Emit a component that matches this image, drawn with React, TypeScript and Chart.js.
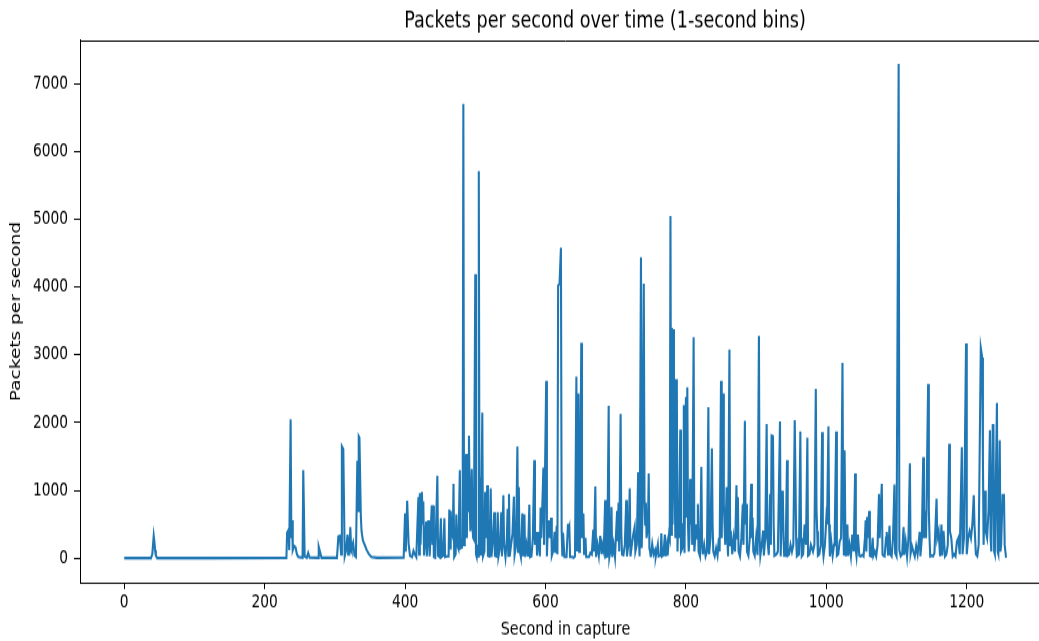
import { useEffect, useRef } from "react";
import { Chart, registerables } from "chart.js";

Chart.register(...registerables);

// [second, packets per second], grouped by phase of the capture
const quietPhase: [number, number][] = [
  [0, 3], [38, 3], [40, 60], [42, 330], [43, 240], [44, 120], [45, 40], [47, 4], [120, 3], [231, 5],
  [232, 380], [234, 420], [235, 120], [237, 2050], [238, 300], [239, 560], [240, 120], [242, 180], [244, 160], [246, 60],
  [248, 20], [254, 10], [255, 1300], [257, 30], [260, 10], [262, 80], [264, 10], [276, 8], [277, 170], [279, 90],
  [281, 8], [303, 8], [305, 320], [307, 330], [309, 60], [310, 1650], [312, 1610], [314, 30], [316, 120], [318, 350],
  [319, 60], [320, 320], [321, 80], [322, 460], [323, 200], [324, 150], [326, 230], [328, 40], [330, 20], [332, 1440],
  [333, 700], [334, 1800], [335, 1780], [337, 620], [338, 400], [340, 260], [342, 210], [345, 130], [348, 70], [352, 20],
  [360, 8], [398, 10],
];

const burstPhase1: [number, number][] = [
  [400, 660], [401, 100], [403, 850], [405, 220], [407, 40], [410, 20], [412, 110], [414, 60], [416, 20], [419, 900],
  [420, 60], [421, 960], [422, 200], [424, 980], [425, 500], [426, 840], [427, 40], [430, 540], [431, 30], [433, 560],
  [434, 380], [435, 30], [438, 780], [439, 200], [440, 780], [441, 20], [443, 10], [446, 1220], [447, 40], [449, 20],
  [451, 590], [452, 20], [454, 40], [456, 590], [457, 20], [460, 30], [462, 30], [463, 720], [464, 150], [465, 700],
  [466, 400], [468, 320], [469, 1100], [470, 20], [472, 60], [473, 650], [474, 200], [476, 140], [478, 1300], [479, 150],
  [481, 160], [482, 300], [483, 6700], [484, 200], [485, 1100], [487, 1540], [488, 300], [489, 1520], [490, 700], [491, 1810],
  [492, 850], [493, 400], [495, 1320], [496, 460], [497, 300], [498, 280], [500, 4190], [501, 60], [502, 20], [503, 200],
  [504, 30], [505, 5710], [506, 350], [507, 1200], [508, 40], [510, 2150], [511, 30], [513, 100], [514, 980], [515, 300],
  [516, 500], [517, 1080], [518, 40], [520, 30], [522, 1030], [523, 20], [525, 250], [527, 680], [528, 40], [530, 30],
  [532, 680], [533, 30], [535, 150], [537, 680], [538, 30], [540, 930], [541, 200], [543, 20], [545, 300], [546, 730],
  [547, 40], [548, 950], [549, 30], [551, 200], [553, 360], [555, 910], [556, 50], [558, 180],
];

const burstPhase2: [number, number][] = [
  [560, 1650], [561, 100], [562, 1050], [563, 130], [565, 20], [567, 660], [568, 30], [570, 650], [571, 20], [573, 200],
  [575, 30], [577, 790], [578, 20], [580, 30], [582, 300], [584, 1450], [585, 200], [587, 390], [588, 40], [590, 390],
  [592, 30], [593, 750], [594, 300], [596, 950], [597, 1340], [598, 200], [601, 2620], [602, 30], [603, 350], [605, 560],
  [606, 300], [608, 600], [609, 40], [611, 110], [613, 390], [614, 80], [616, 480], [617, 60], [618, 4020], [620, 4050],
  [622, 4580], [623, 410], [624, 30], [625, 380], [627, 20], [630, 20], [632, 510], [633, 400], [634, 450], [635, 20],
  [638, 20], [640, 10], [642, 30], [644, 2680], [645, 100], [647, 2430], [648, 100], [649, 400], [651, 3180], [652, 300],
  [654, 660], [655, 50], [657, 300], [658, 20], [662, 20], [664, 80], [666, 60], [668, 420], [669, 100], [671, 1060],
  [672, 20], [674, 200], [676, 40], [678, 330], [680, 60], [681, 200], [683, 100], [685, 860], [686, 20], [688, 30],
  [690, 2250], [691, 20], [693, 150], [694, 760], [695, 20], [697, 200], [699, 20], [702, 700], [703, 250], [704, 820],
  [705, 100], [707, 2130], [708, 370], [709, 60], [711, 50], [713, 200], [715, 860], [716, 30], [718, 200], [720, 1030],
  [721, 30], [723, 200], [725, 350], [727, 460], [728, 100], [730, 200], [732, 1270], [733, 300], [734, 30], [736, 4440],
  [737, 150], [738, 600],
];

const burstPhase3: [number, number][] = [
  [740, 4050], [741, 880], [742, 500], [743, 820], [744, 300], [746, 500], [747, 1250], [748, 150], [749, 100], [750, 20],
  [752, 210], [754, 60], [756, 120], [757, 20], [760, 200], [761, 30], [764, 40], [765, 370], [766, 30], [768, 50],
  [770, 350], [771, 30], [773, 200], [774, 40], [776, 350], [777, 300], [778, 5050], [779, 350], [780, 3400], [781, 500],
  [782, 3380], [783, 1200], [784, 1000], [785, 300], [786, 2620], [787, 2640], [788, 100], [789, 600], [790, 300], [792, 1900],
  [793, 100], [795, 150], [796, 500], [797, 2260], [798, 80], [800, 2380], [801, 600], [802, 2520], [803, 500], [804, 100],
  [805, 300], [806, 1170], [807, 500], [808, 1000], [809, 200], [811, 3260], [812, 100], [813, 250], [815, 500], [816, 300],
  [817, 800], [818, 100], [820, 30], [822, 1350], [823, 200], [824, 60], [826, 200], [828, 30], [830, 100], [832, 2230],
  [833, 60], [835, 300], [837, 1620], [838, 500], [839, 100], [841, 30], [843, 150], [845, 40], [847, 300], [848, 100],
  [850, 2620], [851, 300], [853, 2430], [854, 800], [856, 200], [858, 1050], [859, 300], [860, 30], [862, 3080], [863, 200],
  [864, 400], [866, 60], [868, 300], [870, 100], [872, 1080], [873, 300], [874, 900], [875, 100], [877, 30], [879, 300],
  [881, 800], [882, 200], [884, 2030], [885, 500], [886, 800], [887, 100], [889, 40], [891, 300], [893, 1100], [894, 300],
  [895, 600], [896, 100], [898, 40], [900, 300], [902, 50],
];

const burstPhase4: [number, number][] = [
  [904, 3280], [905, 300], [906, 40], [908, 200], [910, 410], [911, 40], [913, 300], [915, 1980], [916, 300], [918, 50],
  [920, 950], [921, 200], [922, 1810], [924, 1800], [925, 500], [926, 40], [929, 60], [931, 100], [934, 2020], [935, 30],
  [937, 980], [938, 1000], [939, 300], [940, 40], [942, 40], [944, 1450], [945, 40], [947, 60], [949, 200], [951, 100],
  [953, 200], [955, 2040], [956, 1220], [957, 300], [958, 30], [961, 60], [963, 1870], [964, 300], [965, 30], [967, 60],
  [969, 500], [971, 200], [973, 1780], [974, 40], [976, 60], [978, 200], [981, 100], [983, 200], [985, 2500], [986, 730],
  [987, 400], [988, 40], [990, 60], [992, 200], [994, 1860], [995, 160], [996, 30], [998, 200], [1000, 590], [1001, 500],
  [1003, 1945], [1004, 500], [1005, 30], [1007, 250], [1009, 40], [1011, 200], [1012, 400], [1014, 1870], [1015, 40], [1017, 60],
  [1019, 250], [1021, 300], [1023, 2880], [1024, 700], [1025, 40], [1026, 1590], [1027, 500], [1028, 30], [1030, 500], [1031, 40],
  [1033, 200], [1035, 30], [1037, 350], [1039, 100], [1041, 1250], [1042, 120], [1043, 30], [1045, 350], [1047, 40], [1049, 30],
  [1051, 50], [1053, 30], [1055, 300], [1056, 560], [1057, 100], [1058, 610], [1059, 300], [1061, 700], [1062, 40], [1064, 30],
  [1066, 300], [1067, 40], [1069, 100],
];

const burstPhase5: [number, number][] = [
  [1071, 30], [1073, 200], [1075, 950], [1076, 300], [1079, 1100], [1080, 60], [1081, 40], [1083, 30], [1085, 300], [1086, 390],
  [1088, 40], [1090, 480], [1091, 60], [1093, 30], [1095, 300], [1097, 1090], [1098, 80], [1100, 30], [1103, 7290], [1104, 120],
  [1106, 30], [1108, 60], [1110, 460], [1111, 50], [1113, 250], [1115, 30], [1117, 300], [1119, 1400], [1120, 70], [1122, 180],
  [1124, 100], [1126, 30], [1128, 180], [1130, 60], [1133, 390], [1134, 30], [1136, 300], [1138, 1490], [1139, 300], [1141, 700],
  [1142, 300], [1145, 2570], [1146, 700], [1147, 300], [1148, 30], [1150, 40], [1152, 30], [1154, 80], [1157, 880], [1158, 300],
  [1160, 400], [1162, 30], [1164, 500], [1165, 40], [1167, 400], [1169, 30], [1171, 60], [1173, 200], [1175, 1690], [1176, 400],
  [1178, 300], [1180, 30], [1182, 60], [1184, 30], [1186, 250], [1188, 300], [1190, 60], [1193, 1640], [1194, 60], [1196, 300],
  [1199, 3170], [1200, 60], [1202, 300], [1204, 400], [1206, 300], [1208, 500], [1210, 930], [1211, 500], [1213, 60], [1215, 30],
  [1217, 200], [1220, 3100], [1222, 2960], [1223, 1500], [1224, 200], [1225, 700], [1226, 1000], [1227, 400], [1229, 300], [1231, 700],
  [1233, 1890], [1234, 300], [1235, 100], [1237, 1960], [1238, 1960], [1239, 100], [1240, 60], [1243, 2290], [1244, 100], [1245, 60],
  [1247, 1740], [1248, 100], [1249, 200], [1251, 930], [1253, 930], [1254, 200], [1256, 10],
];

const xTickValues = [0, 200, 400, 600, 800, 1000, 1200];
const yTickValues = [0, 1000, 2000, 3000, 4000, 5000, 6000, 7000];

const chartTitle = "Packets per second over time (1-second bins)";
const xAxisLabel = "Second in capture";
const yAxisLabel = "Packets per second";

const FONT = "'DejaVu Sans', 'Liberation Sans', sans-serif";
const STRETCH_Y = 1.3;
const CANVAS_W = 1194;
const CANVAS_H = 487;

export default function App() {
  const canvasRef = useRef<HTMLCanvasElement | null>(null);

  useEffect(() => {
    document.body.style.overflow = "hidden";
    const canvas = canvasRef.current;
    if (!canvas) return;

    const points = [
      ...quietPhase,
      ...burstPhase1,
      ...burstPhase2,
      ...burstPhase3,
      ...burstPhase4,
      ...burstPhase5,
    ].map(([x, y]) => ({ x, y }));

    const framePlugin = {
      id: "frame",
      afterDatasetsDraw(chart: any) {
        const { ctx, chartArea } = chart;
        const { left, top, right, bottom } = chartArea;
        ctx.save();
        ctx.strokeStyle = "#000";
        ctx.lineWidth = 1;
        ctx.beginPath();
        ctx.moveTo(left, Math.round(top) + 0.5);
        ctx.lineTo(right, Math.round(top) + 0.5);
        ctx.moveTo(Math.round(right) - 0.5, top);
        ctx.lineTo(Math.round(right) - 0.5, bottom);
        ctx.stroke();
        ctx.restore();
      },
    };

    const titlePlugin = {
      id: "centeredTitle",
      afterDraw(chart: any) {
        const { ctx } = chart;
        ctx.save();
        ctx.fillStyle = "#000";
        ctx.font = `normal 17.6px ${FONT}`;
        ctx.textAlign = "center";
        ctx.textBaseline = "middle";
        ctx.fillText(chartTitle, 597, 10.5);
        ctx.restore();
      },
    };

    const chart = new Chart(canvas, {
      type: "line",
      data: {
        datasets: [
          {
            data: points,
            borderColor: "#1f77b4",
            backgroundColor: "#1f77b4",
            borderWidth: 2.1,
            pointRadius: 0,
            tension: 0,
            fill: false,
          },
        ],
      },
      options: {
        animation: false,
        responsive: false,
        devicePixelRatio: 1,
        events: [],
        layout: { padding: { left: 0, right: 151, top: 24.6, bottom: 0 } },
        plugins: {
          legend: { display: false },
          tooltip: { enabled: false },
          title: { display: false },
        },
        scales: {
          x: {
            type: "linear",
            min: -63,
            max: 1320,
            afterBuildTicks: (scale: any) => {
              scale.ticks = xTickValues.map((value) => ({ value }));
            },
            afterFit: (scale: any) => {
              scale.height = 44.7;
            },
            ticks: {
              color: "#000",
              font: { family: FONT, size: 13.8 },
              padding: 2,
              autoSkip: false,
              maxRotation: 0,
              callback: (v: any) => String(v),
            },
            grid: {
              drawOnChartArea: false,
              drawTicks: true,
              tickLength: 4.6,
              color: "#000",
            },
            border: { display: true, color: "#000", width: 1 },
            title: {
              display: true,
              text: xAxisLabel,
              color: "#000",
              font: { family: FONT, size: 14.3 },
              padding: { top: 0, bottom: 0 },
            },
          },
          y: {
            type: "linear",
            min: -364,
            max: 7644,
            afterBuildTicks: (scale: any) => {
              scale.ticks = yTickValues.map((value) => ({ value }));
            },
            afterFit: (scale: any) => {
              scale.width = 72;
            },
            ticks: {
              color: "#000",
              font: { family: FONT, size: 13.8 },
              padding: 6,
              autoSkip: false,
              callback: (v: any) => String(v),
            },
            grid: {
              drawOnChartArea: false,
              drawTicks: true,
              tickLength: 6,
              color: "#000",
            },
            border: { display: true, color: "#000", width: 1 },
            title: {
              display: true,
              text: yAxisLabel,
              color: "#000",
              font: { family: FONT, size: 14.3 },
              padding: { top: 0, bottom: 0 },
            },
          },
        },
      } as any,
      plugins: [framePlugin, titlePlugin],
    });

    return () => chart.destroy();
  }, []);

  return (
    <div
      style={{
        position: "fixed",
        left: 0,
        top: 0,
        width: 1039,
        height: 641,
        overflow: "hidden",
        background: "#fff",
      }}
    >
      <canvas
        ref={canvasRef}
        width={CANVAS_W}
        height={CANVAS_H}
        style={{
          position: "absolute",
          left: 8,
          top: 8,
          display: "block",
          width: CANVAS_W,
          height: CANVAS_H,
          transform: `scaleY(${STRETCH_Y})`,
          transformOrigin: "0 0",
        }}
      />
    </div>
  );
}
